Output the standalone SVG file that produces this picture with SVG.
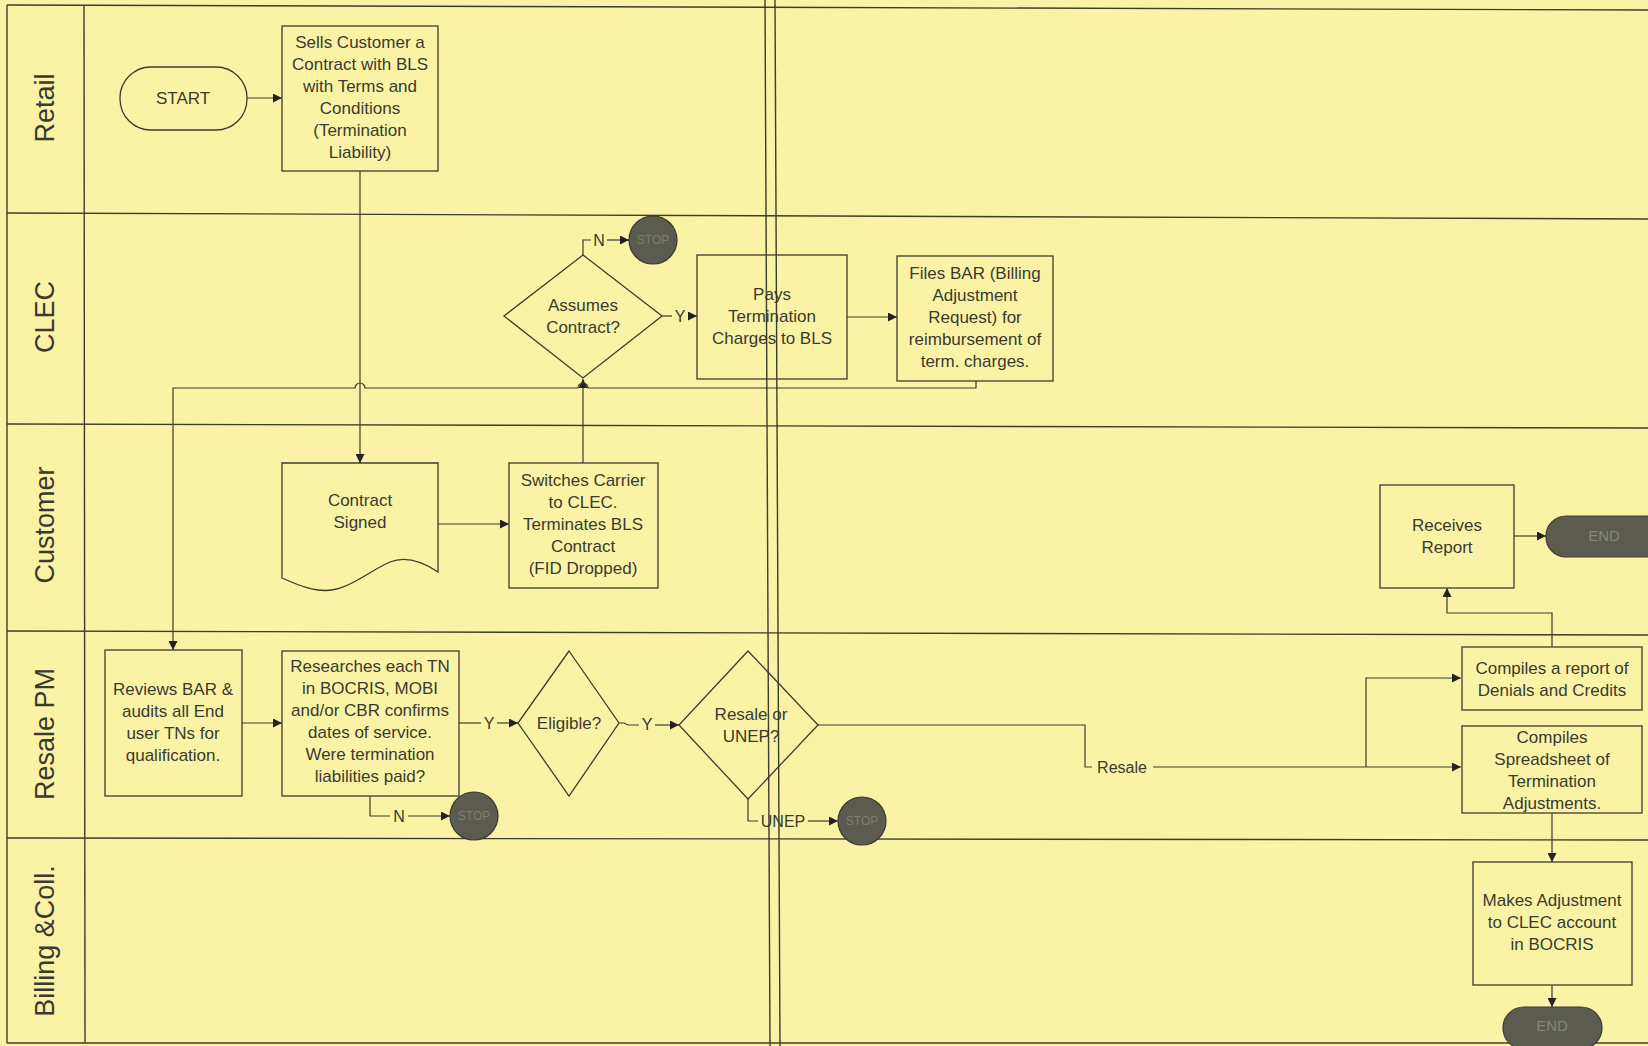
<svg xmlns="http://www.w3.org/2000/svg" width="1648" height="1046" viewBox="0 0 1648 1046">
<style>
.bg{fill:#faf3a6}
.ln{fill:none;stroke:#3c3c30;stroke-width:1.4}
.box{fill:none;stroke:#3c3c30;stroke-width:1.3}
.conn{fill:none;stroke:#3c3c30;stroke-width:1.2}
.t{font-family:"Liberation Sans",Arial,sans-serif;font-size:17px;fill:#3a3a30;text-anchor:middle}
.cl{font-family:"Liberation Sans",Arial,sans-serif;font-size:16px;fill:#3a3a30;text-anchor:middle}
.lane{font-family:"Liberation Sans",Arial,sans-serif;font-size:27px;fill:#3a3a30;text-anchor:middle}
.stop{fill:#5b5b50;stroke:#3a3a30;stroke-width:1.2}
.st{font-family:"Liberation Sans",Arial,sans-serif;font-size:12px;fill:#7d7d6c;text-anchor:middle}
.endt{font-family:"Liberation Sans",Arial,sans-serif;font-size:15px;fill:#85857a;text-anchor:middle}
</style>
<defs>
<marker id="ah" viewBox="0 0 10 10" refX="10" refY="5" markerWidth="10" markerHeight="9" markerUnits="userSpaceOnUse" orient="auto">
<path d="M0,0 L10,5 L0,10 z" fill="#222"/>
</marker>
</defs>
<rect class="bg" x="0" y="0" width="1648" height="1046"/>
<g id="lanes">
<line class="ln" x1="7" y1="5" x2="1648" y2="10"/>
<line class="ln" x1="7" y1="213" x2="1648" y2="219"/>
<line class="ln" x1="7" y1="424" x2="1648" y2="428"/>
<line class="ln" x1="7" y1="631" x2="1648" y2="635"/>
<line class="ln" x1="7" y1="838" x2="1648" y2="840"/>
<line class="ln" x1="7" y1="1043" x2="1648" y2="1043"/>
<line class="ln" x1="7" y1="5" x2="7" y2="1043"/>
<line class="ln" x1="84" y1="5" x2="85" y2="1043"/>
<line class="ln" x1="765" y1="0" x2="770" y2="1046"/>
<line class="ln" x1="775" y1="0" x2="780" y2="1046"/>
<text class="lane" transform="translate(45,108) rotate(-90)" dominant-baseline="central">Retail</text>
<text class="lane" transform="translate(45,317) rotate(-90)" dominant-baseline="central">CLEC</text>
<text class="lane" transform="translate(45,525) rotate(-90)" dominant-baseline="central">Customer</text>
<text class="lane" transform="translate(45,734) rotate(-90)" dominant-baseline="central">Resale PM</text>
<text class="lane" transform="translate(45,941) rotate(-90)" dominant-baseline="central">Billing &amp;Coll.</text>
</g>
<g id="connectors">
<line class="conn" x1="247" y1="98" x2="282" y2="98" marker-end="url(#ah)"/>
<line class="conn" x1="360" y1="171" x2="360" y2="463" marker-end="url(#ah)"/>
<line class="conn" x1="438" y1="524" x2="509" y2="524" marker-end="url(#ah)"/>
<line class="conn" x1="583" y1="463" x2="583" y2="379" marker-end="url(#ah)"/>
<path class="conn" d="M583,255 V240 H591"/>
<text class="cl" x="599" y="246">N</text>
<line class="conn" x1="607" y1="240" x2="629" y2="240" marker-end="url(#ah)"/>
<path class="conn" d="M662,316 H672"/>
<text class="cl" x="680" y="322">Y</text>
<line class="conn" x1="688" y1="316" x2="697" y2="316" marker-end="url(#ah)"/>
<line class="conn" x1="847" y1="317" x2="897" y2="317" marker-end="url(#ah)"/>
<path class="conn" d="M976,381 V388 H588 A5,5 0 0 0 578,388 H365 A5,5 0 0 0 355,388 H173 V650" marker-end="url(#ah)"/>
<line class="conn" x1="242" y1="723" x2="282" y2="723" marker-end="url(#ah)"/>
<path class="conn" d="M459,723 H481"/>
<text class="cl" x="489" y="729">Y</text>
<line class="conn" x1="497" y1="723" x2="518" y2="723" marker-end="url(#ah)"/>
<path class="conn" d="M619,723 H624 L628,725 H639"/>
<text class="cl" x="647" y="730">Y</text>
<line class="conn" x1="655" y1="725" x2="679" y2="725" marker-end="url(#ah)"/>
<path class="conn" d="M370,796 V816 H390"/>
<text class="cl" x="399" y="822">N</text>
<line class="conn" x1="408" y1="816" x2="450" y2="816" marker-end="url(#ah)"/>
<path class="conn" d="M748,799 V821 H758"/>
<text class="cl" x="783" y="827">UNEP</text>
<line class="conn" x1="808" y1="821" x2="838" y2="821" marker-end="url(#ah)"/>
<path class="conn" d="M818,725 H1085 V767 H1092"/>
<text class="cl" x="1122" y="773">Resale</text>
<line class="conn" x1="1153" y1="767" x2="1461" y2="767" marker-end="url(#ah)"/>
<path class="conn" d="M1366,767 V678 H1461" marker-end="url(#ah)"/>
<path class="conn" d="M1552,647 V613 H1447 V588" marker-end="url(#ah)"/>
<line class="conn" x1="1514" y1="536" x2="1546" y2="536" marker-end="url(#ah)"/>
<line class="conn" x1="1552" y1="813" x2="1552" y2="862" marker-end="url(#ah)"/>
<line class="conn" x1="1552" y1="985" x2="1552" y2="1007" marker-end="url(#ah)"/>
</g>
<g id="start">
<rect class="box" x="120" y="67" width="127" height="63" rx="31"/>
<text class="t" x="183" y="104">START</text>
</g>
<g id="sells">
<rect class="box" x="282" y="26" width="156" height="145"/>
<text class="t" x="360" y="48">Sells Customer a</text>
<text class="t" x="360" y="70">Contract with BLS</text>
<text class="t" x="360" y="92">with Terms and</text>
<text class="t" x="360" y="114">Conditions</text>
<text class="t" x="360" y="136">(Termination</text>
<text class="t" x="360" y="158">Liability)</text>
</g>
<g id="contract-signed">
<path class="box" d="M282,463 H438 V572 C420,560 405,556 390,562 C365,573 345,594 318,590 C302,588 292,582 282,578 Z"/>
<text class="t" x="360" y="506">Contract</text>
<text class="t" x="360" y="528">Signed</text>
</g>
<g id="switches">
<rect class="box" x="509" y="463" width="149" height="125"/>
<text class="t" x="583" y="486">Switches Carrier</text>
<text class="t" x="583" y="508">to CLEC.</text>
<text class="t" x="583" y="530">Terminates BLS</text>
<text class="t" x="583" y="552">Contract</text>
<text class="t" x="583" y="574">(FID Dropped)</text>
</g>
<g id="assumes">
<path class="box" d="M583,255 L662,316 L583,378 L504,316 Z"/>
<text class="t" x="583" y="311">Assumes</text>
<text class="t" x="583" y="333">Contract?</text>
</g>
<g id="stop1">
<circle class="stop" cx="653" cy="240" r="24"/>
<text class="st" x="653" y="244">STOP</text>
</g>
<g id="pays">
<rect class="box" x="697" y="255" width="150" height="124"/>
<text class="t" x="772" y="300">Pays</text>
<text class="t" x="772" y="322">Termination</text>
<text class="t" x="772" y="344">Charges to BLS</text>
</g>
<g id="files">
<rect class="box" x="897" y="256" width="156" height="125"/>
<text class="t" x="975" y="279">Files BAR (Billing</text>
<text class="t" x="975" y="301">Adjustment</text>
<text class="t" x="975" y="323">Request) for</text>
<text class="t" x="975" y="345">reimbursement of</text>
<text class="t" x="975" y="367">term. charges.</text>
</g>
<g id="reviews">
<rect class="box" x="105" y="650" width="137" height="146"/>
<text class="t" x="173" y="695">Reviews BAR &amp;</text>
<text class="t" x="173" y="717">audits all End</text>
<text class="t" x="173" y="739">user TNs for</text>
<text class="t" x="173" y="761">qualification.</text>
</g>
<g id="researches">
<rect class="box" x="282" y="651" width="177" height="145"/>
<text class="t" x="370" y="672">Researches each TN</text>
<text class="t" x="370" y="694">in BOCRIS, MOBI</text>
<text class="t" x="370" y="716">and/or CBR confirms</text>
<text class="t" x="370" y="738">dates of service.</text>
<text class="t" x="370" y="760">Were termination</text>
<text class="t" x="370" y="782">liabilities  paid?</text>
</g>
<g id="stop2">
<circle class="stop" cx="474" cy="816" r="24"/>
<text class="st" x="474" y="820">STOP</text>
</g>
<g id="eligible">
<path class="box" d="M569,651 L619,723 L569,796 L518,723 Z"/>
<text class="t" x="569" y="729">Eligible?</text>
</g>
<g id="resale-unep">
<path class="box" d="M748,651 L818,725 L748,799 L679,725 Z"/>
<text class="t" x="751" y="720">Resale or</text>
<text class="t" x="751" y="742">UNEP?</text>
</g>
<g id="stop3">
<circle class="stop" cx="862" cy="821" r="24"/>
<text class="st" x="862" y="825">STOP</text>
</g>
<g id="compiles-report">
<rect class="box" x="1462" y="647" width="180" height="63"/>
<text class="t" x="1552" y="674">Compiles a report of</text>
<text class="t" x="1552" y="696">Denials and Credits</text>
</g>
<g id="compiles-spreadsheet">
<rect class="box" x="1462" y="726" width="180" height="87"/>
<text class="t" x="1552" y="743">Compiles</text>
<text class="t" x="1552" y="765">Spreadsheet of</text>
<text class="t" x="1552" y="787">Termination</text>
<text class="t" x="1552" y="809">Adjustments.</text>
</g>
<g id="receives">
<rect class="box" x="1380" y="485" width="134" height="103"/>
<text class="t" x="1447" y="531">Receives</text>
<text class="t" x="1447" y="553">Report</text>
</g>
<g id="end1">
<rect class="stop" x="1546" y="516" width="120" height="41" rx="20"/>
<text class="endt" x="1604" y="541">END</text>
</g>
<g id="makes">
<rect class="box" x="1473" y="862" width="159" height="123"/>
<text class="t" x="1552" y="906">Makes Adjustment</text>
<text class="t" x="1552" y="928">to CLEC account</text>
<text class="t" x="1552" y="950">in BOCRIS</text>
</g>
<g id="end2">
<rect class="stop" x="1503" y="1007" width="99" height="42" rx="21"/>
<text class="endt" x="1552" y="1031">END</text>
</g>
</svg>
